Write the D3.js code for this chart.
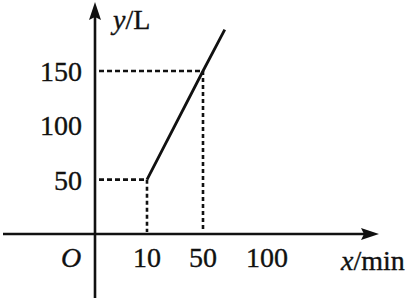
<!DOCTYPE html>
<html>
<head>
<meta charset="utf-8">
<script src="https://cdn.jsdelivr.net/npm/d3@7"></script>
<style>
  html, body { margin: 0; padding: 0; background: #fff; }
  svg { display: block; }
  text { font-family: "Liberation Serif", "Times New Roman", serif; fill: #111; stroke: #111; stroke-width: 0.35px; }
</style>
</head>
<body>
<svg id="chart"></svg>
<script>
// data
const xTicks = [10, 50, 100];
const yTicks = [50, 100, 150];
const linePoints = [[10, 50], [50, 150], [67, 188]];
const guidePoints = [[10, 50], [50, 150]];

const width = 415, height = 307;
const svg = d3.select("#chart").attr("width", width).attr("height", height);

// schematic x axis: the spacing is not proportional in the drawing
const x = d3.scaleLinear().domain([0, 10, 50, 100]).range([95, 147, 203, 267]);
const y = d3.scaleLinear().domain([0, 150]).range([234, 71]);

const ink = "#111";
const fs = "28px";

// axes
svg.append("line")
  .attr("x1", 3).attr("x2", 366)
  .attr("y1", y(0)).attr("y2", y(0))
  .attr("stroke", ink).attr("stroke-width", 2.6);
svg.append("path")
  .attr("d", `M379,${y(0)} L361,${y(0) - 6} L364,${y(0)} L361,${y(0) + 6} Z`)
  .attr("fill", ink);

svg.append("line")
  .attr("x1", x(0)).attr("x2", x(0))
  .attr("y1", 298).attr("y2", 15)
  .attr("stroke", ink).attr("stroke-width", 2.6);
svg.append("path")
  .attr("d", `M${x(0)},2 L${x(0) - 6},20 L${x(0)},17 L${x(0) + 6},20 Z`)
  .attr("fill", ink);

// dashed guides
const guides = svg.append("g")
  .attr("stroke", ink).attr("stroke-width", 2.6).attr("fill", "none");
guidePoints.forEach(([gx, gy]) => {
  guides.append("line")
    .attr("x1", x(0) + 4).attr("x2", x(gx))
    .attr("y1", y(gy)).attr("y2", y(gy))
    .attr("stroke-dasharray", "5,3");
  guides.append("line")
    .attr("x1", x(gx)).attr("x2", x(gx))
    .attr("y1", y(gy)).attr("y2", y(0) - 2)
    .attr("stroke-dasharray", "4,3");
});

// graph
svg.append("path")
  .datum(linePoints)
  .attr("d", d3.line().x(d => x(d[0])).y(d => y(d[1])))
  .attr("fill", "none")
  .attr("stroke", ink)
  .attr("stroke-width", 2.8);

// tick labels
svg.append("g").selectAll("text")
  .data(xTicks).join("text")
  .attr("x", d => x(d))
  .attr("y", 267)
  .attr("text-anchor", "middle")
  .style("font-size", fs)
  .text(d => d);

svg.append("g").selectAll("text")
  .data(yTicks).join("text")
  .attr("x", 82)
  .attr("y", d => y(d) + 10)
  .attr("text-anchor", "end")
  .style("font-size", fs)
  .text(d => d);

svg.append("text")
  .attr("x", 71).attr("y", 267)
  .attr("text-anchor", "middle")
  .style("font-size", fs).style("font-style", "italic")
  .text("O");

// axis titles
const yt = svg.append("text").attr("x", 113).attr("y", 29).style("font-size", fs);
yt.append("tspan").style("font-style", "italic").text("y");
yt.append("tspan").text("/L");

const xt = svg.append("text").attr("x", 341).attr("y", 270).style("font-size", fs);
xt.append("tspan").style("font-style", "italic").text("x");
xt.append("tspan").text("/min");
</script>
</body>
</html>
